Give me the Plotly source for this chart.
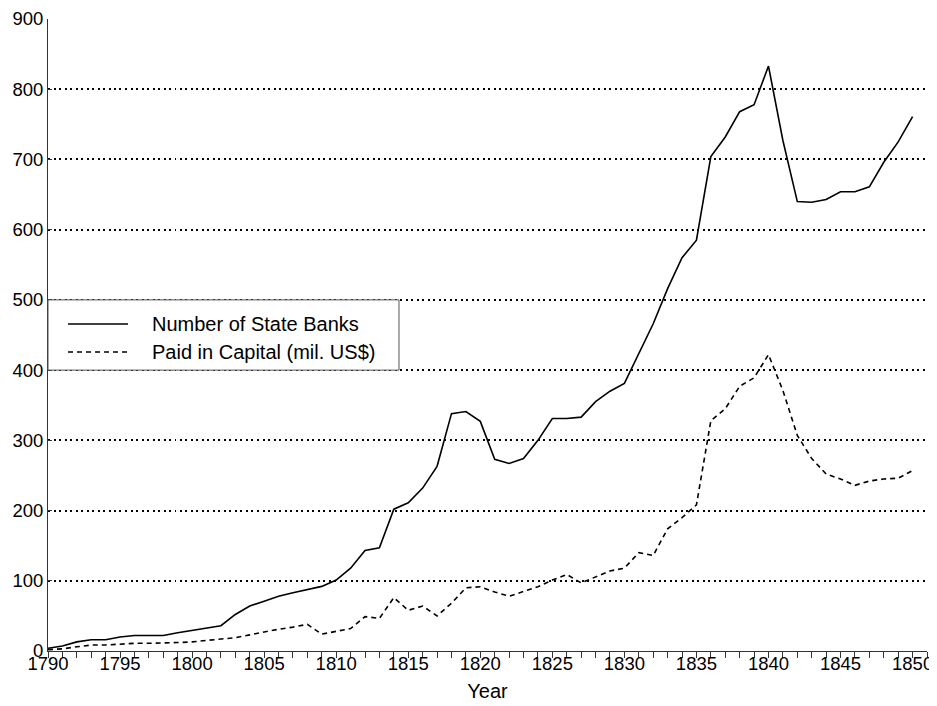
import plotly.graph_objects as go

years = list(range(1790, 1851))

state_banks = [4, 7, 13, 16, 16, 20, 22, 22, 22, 26,
               29, 32, 36, 52, 64, 71, 78, 83, 87, 92,
               101, 118, 143, 147, 202, 211, 232, 263, 338, 341,
               327, 273, 267, 274, 300, 331, 331, 333, 355, 370,
               381, 424, 466, 516, 560, 585, 704, 732, 768, 778,
               833, 727, 640, 639, 643, 654, 654, 661, 696, 725,
               761]

paid_capital = [2, 3, 6, 8.5, 8.5, 10, 11, 11, 11, 12,
                13, 15, 16.5, 19, 23, 27.5, 31, 34, 38, 24,
                27.5, 32, 49, 46.5, 76, 58, 64, 50, 68, 90,
                91.5, 84, 78, 85, 91.5, 101, 109, 97, 106, 114,
                118, 140, 136, 174, 190, 208, 328, 345, 377, 389,
                422, 371, 307, 274, 252, 245, 236, 242, 245, 246,
                257]

series_names = ["Number of State Banks", "Paid in Capital (mil. US$)"]

FONT = "Liberation Sans, Arial, Helvetica, sans-serif"

fig = go.Figure()
fig.add_trace(go.Scatter(x=years, y=state_banks, mode="lines", name=series_names[0],
                         line=dict(color="black", width=1.6), showlegend=False))
fig.add_trace(go.Scatter(x=years, y=paid_capital, mode="lines", name=series_names[1],
                         line=dict(color="black", width=1.6, dash="5px,4px"), showlegend=False))

# Legend drawn manually (box in paper coordinates)
lx0, lx1, ly0, ly1 = 0.0, 0.3993, 4/9, 5/9
fig.add_shape(type="rect", xref="paper", yref="paper", x0=lx0, x1=lx1, y0=ly0, y1=ly1,
              fillcolor="white", line=dict(color="#555555", width=1), layer="above")
rows = [0.5174, 0.4731]
dashes = ["solid", "5px,4px"]
for name, yy, dsh in zip(series_names, rows, dashes):
    fig.add_shape(type="line", xref="paper", yref="paper", x0=0.0228, x1=0.091, y0=yy, y1=yy,
                  line=dict(color="black", width=1.6, dash=dsh), layer="above")
    fig.add_annotation(xref="paper", yref="paper", x=0.1163, y=yy, text=name, showarrow=False,
                       xanchor="left", yanchor="middle", font=dict(family=FONT, size=20, color="black"))

fig.update_layout(
    width=929, height=698,
    margin=dict(l=40, r=10, t=11, b=55, autoexpand=False),
    paper_bgcolor="white", plot_bgcolor="white",
    font=dict(family=FONT, size=18, color="black"),
    showlegend=False,
)
fig.update_xaxes(
    range=[1790, 1851], dtick=5, tick0=1790, ticks="outside", ticklen=6, tickwidth=1,
    tickcolor="#333333", showline=True, linecolor="#333333", linewidth=1,
    showgrid=False, zeroline=False,
    minor=dict(dtick=1, ticks="outside", ticklen=6, tickcolor="#333333", showgrid=False),
    title=dict(text="Year", font=dict(size=20), standoff=10),
    tickfont=dict(size=18.5), ticklabelstandoff=-10, automargin=False,
)
fig.update_yaxes(
    range=[0, 900], dtick=100, ticks="inside", ticklen=4, tickcolor="#333333",
    showline=True, linecolor="#333333", linewidth=1,
    showgrid=True, gridcolor="black", griddash="2px,3.5px", gridwidth=1.6,
    zeroline=False, tickfont=dict(size=18.5), automargin=False,
)

fig.write_html("out.html")
